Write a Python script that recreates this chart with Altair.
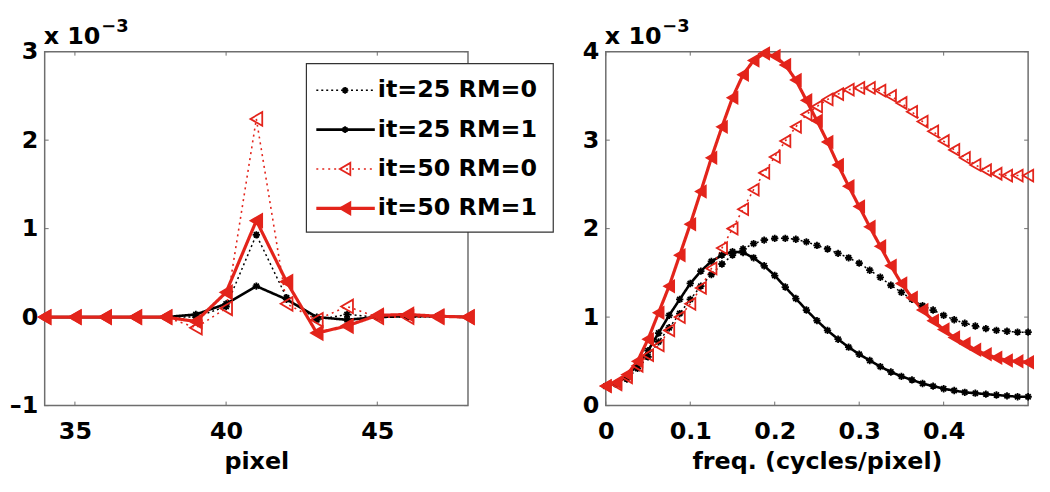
import altair as alt
import pandas as pd

FONT = "DejaVu Sans"
SERIES = ["it=25 RM=0", "it=25 RM=1", "it=50 RM=0", "it=50 RM=1"]
COLORS = ["#000000", "#000000", "#e3241b", "#e3241b"]
DASHES = [[2, 3], [1, 0], [2, 4], [1, 0]]
WIDTHS = [1.5, 2.6, 1.6, 3.2]
BLACK = SERIES[:2]
RED_OPEN = [SERIES[2]]
RED_FILLED = [SERIES[3]]
ASTER = "M-1,0L1,0M0,-1L0,1M-0.7,-0.7L0.7,0.7M-0.7,0.7L0.7,-0.7"

# ---- left panel: spatial profile (values x 1e-3) ----
left_pixel = [34, 35, 36, 37, 38, 39, 40, 41, 42, 43, 44, 45, 46, 47, 48]
left_it25_rm0 = [0, 0, 0, 0, 0, 0.0, 0.12, 0.93, 0.22, -0.03, 0.03, 0.0, 0.0, 0.0, 0.0]
left_it25_rm1 = [0, 0, 0, 0, 0, 0.03, 0.15, 0.35, 0.2, 0.0, -0.03, 0.0, 0.01, 0.01, 0.0]
left_it50_rm0 = [0, 0, 0, 0, 0, -0.12, 0.1, 2.24, 0.15, -0.03, 0.12, 0.0, 0.0, 0.0, 0.0]
left_it50_rm1 = [0, 0, 0, 0, 0, -0.05, 0.28, 1.09, 0.4, -0.18, -0.1, 0.02, 0.03, 0.01, 0.0]
left_xticks = [35, 40, 45]
left_yticks = [-1, 0, 1, 2, 3]

# ---- right panel: frequency response (values x 1e-3) ----
right_freq = [0, 0.0125, 0.025, 0.0375, 0.05, 0.0625, 0.075, 0.0875, 0.1, 0.1125,
              0.125, 0.1375, 0.15, 0.1625, 0.175, 0.1875, 0.2, 0.2125, 0.225, 0.2375,
              0.25, 0.2625, 0.275, 0.2875, 0.3, 0.3125, 0.325, 0.3375, 0.35, 0.3625,
              0.375, 0.3875, 0.4, 0.4125, 0.425, 0.4375, 0.45, 0.4625, 0.475, 0.4875, 0.5]
right_it25_rm0 = [0.22, 0.24, 0.3, 0.42, 0.55, 0.72, 0.88, 1.04, 1.2, 1.35,
                  1.48, 1.6, 1.7, 1.77, 1.83, 1.87, 1.89, 1.89, 1.88, 1.85,
                  1.81, 1.77, 1.72, 1.67, 1.61, 1.53, 1.45, 1.36, 1.28, 1.2,
                  1.13, 1.08, 1.02, 0.97, 0.93, 0.9, 0.87, 0.85, 0.84, 0.83, 0.83]
right_it25_rm1 = [0.22, 0.25, 0.33, 0.46, 0.62, 0.82, 1.02, 1.2, 1.38, 1.52,
                  1.63, 1.7, 1.74, 1.73, 1.67, 1.58, 1.47, 1.34, 1.21, 1.08,
                  0.96, 0.85, 0.75, 0.66, 0.58, 0.51, 0.44, 0.38, 0.33, 0.29,
                  0.25, 0.22, 0.19, 0.17, 0.15, 0.14, 0.13, 0.12, 0.11, 0.1, 0.1]
right_it50_rm0 = [0.22, 0.24, 0.32, 0.45, 0.57, 0.68, 0.85, 1.0, 1.15, 1.33,
                  1.55, 1.78, 2.0, 2.22, 2.44, 2.63, 2.81, 2.99, 3.15, 3.29,
                  3.38, 3.46, 3.52, 3.57, 3.59, 3.59, 3.56, 3.5, 3.42, 3.32,
                  3.21, 3.1, 2.99, 2.89, 2.8, 2.72, 2.66, 2.62, 2.6, 2.6, 2.6]
right_it50_rm1 = [0.22, 0.26, 0.35, 0.5, 0.75, 1.05, 1.35, 1.7, 2.05, 2.42,
                  2.8, 3.15, 3.48, 3.74, 3.9, 3.98, 3.95, 3.85, 3.68, 3.45,
                  3.22, 2.98, 2.72, 2.48, 2.25, 2.02, 1.8, 1.58, 1.38, 1.22,
                  1.08, 0.96, 0.86, 0.77, 0.7, 0.63, 0.58, 0.54, 0.51, 0.5, 0.49]
right_xticks = [0, 0.1, 0.2, 0.3, 0.4]
right_yticks = [0, 1, 2, 3, 4]


def long_df(xs, arrays):
    rows = []
    for name, arr in zip(SERIES, arrays):
        for x, y in zip(xs, arr):
            rows.append({"x": x, "y": y, "series": name})
    return pd.DataFrame(rows)


left_df = long_df(left_pixel, [left_it25_rm0, left_it25_rm1, left_it50_rm0, left_it50_rm1])
right_df = long_df(right_freq, [right_it25_rm0, right_it25_rm1, right_it50_rm0, right_it50_rm1])

color = alt.Color("series:N", scale=alt.Scale(type="ordinal", domain=SERIES, range=COLORS),
                  legend=None)
dash = alt.StrokeDash("series:N", scale=alt.Scale(type="ordinal", domain=SERIES, range=DASHES),
                      legend=None)
swidth = alt.StrokeWidth("series:N",
                         scale=alt.Scale(type="ordinal", domain=SERIES, range=WIDTHS),
                         legend=None)

W1, W2, H = 427, 426, 357
TICK = "#6e6e6e"
RED = "#e3241b"


def only(chart, names):
    return chart.transform_filter(alt.FieldOneOfPredicate(field="series", oneOf=names))


def panel(df, W, xdomain, xticks, xtitle, xlabelexpr, ydomain, yticks, ylabelexpr,
          tri_size, ast_size, legend):
    xs = alt.Scale(domain=xdomain, nice=False, zero=False)
    ys = alt.Scale(domain=ydomain, nice=False, zero=False)
    xaxis = alt.Axis(values=xticks, title=xtitle, labelExpr=xlabelexpr, orient="bottom",
                     labelPadding=14, titlePadding=6, labelFlush=False, labelOverlap=False)
    yaxis = alt.Axis(values=yticks, title=None, labelExpr=ylabelexpr, orient="left",
                     labelPadding=7, labelFlush=False, labelOverlap=False)
    X = alt.X("x:Q", scale=xs, axis=xaxis)
    Y = alt.Y("y:Q", scale=ys, axis=yaxis)
    Yn = alt.Y("y:Q", scale=ys, axis=None)
    base = alt.Chart(df)
    lines = base.mark_line(clip=True).encode(x=X, y=Y, color=color, strokeDash=dash,
                                             strokeWidth=swidth)
    ast = only(base, BLACK).mark_point(shape=ASTER, size=ast_size, strokeWidth=1.8,
                                       filled=False, opacity=1).encode(x=X, y=Yn, color=color)
    tri_open = only(base, RED_OPEN).mark_point(
        shape="triangle-left", size=tri_size, strokeWidth=1.8, filled=False, opacity=1,
        color=RED).encode(x=X, y=Yn)
    tri_fill = only(base, RED_FILLED).mark_point(
        shape="triangle-left", size=tri_size, strokeWidth=1.6, filled=True, opacity=1,
        fill=RED, stroke=RED).encode(x=X, y=Yn)

    xt = alt.Chart(pd.DataFrame({"x": xticks}))
    yt = alt.Chart(pd.DataFrame({"t": yticks}))
    xtick_b = xt.mark_rule(color=TICK, strokeWidth=1).encode(
        x=X, y=alt.value(H), y2=alt.value(H - 4))
    xtick_t = xt.mark_rule(color=TICK, strokeWidth=1).encode(
        x=X, y=alt.value(0), y2=alt.value(4))
    ytick_l = yt.mark_rule(color=TICK, strokeWidth=1).encode(
        y=alt.Y("t:Q", scale=ys, axis=None), x=alt.value(0), x2=alt.value(4))
    ytick_r = yt.mark_rule(color=TICK, strokeWidth=1).encode(
        y=alt.Y("t:Q", scale=ys, axis=None), x=alt.value(W), x2=alt.value(W - 4))

    one = alt.Chart(pd.DataFrame({"a": [0]}))
    exp_base = one.mark_text(text="x 10", align="left", baseline="alphabetic", font=FONT,
                             fontSize=24, fontWeight="bold", color="black").encode(
        x=alt.value(-1), y=alt.value(-8))
    exp_sup = one.mark_text(text="\u22123", align="left", baseline="alphabetic", font=FONT,
                            fontSize=18, fontWeight="bold", color="black").encode(
        x=alt.value(57), y=alt.value(-20))

    layers = [lines, xtick_b, xtick_t, ytick_l, ytick_r, ast, tri_open, tri_fill,
              exp_base, exp_sup]

    if legend:
        leg = alt.Chart(pd.DataFrame({"series": SERIES}))
        ly = alt.Y("series:N", scale=alt.Scale(domain=SERIES, range=[39, 158], type="point",
                                               padding=0), axis=None)
        box = one.mark_rect(fill="white", stroke="#333333", strokeWidth=1.2).encode(
            x=alt.value(264), x2=alt.value(513), y=alt.value(12), y2=alt.value(182))
        lrule = leg.mark_rule().encode(x=alt.value(274), x2=alt.value(333), y=ly,
                                       color=color, strokeDash=dash, strokeWidth=swidth)
        last = only(leg, BLACK).mark_point(shape=ASTER, size=45, strokeWidth=1.8,
                                           filled=False, opacity=1).encode(
            x=alt.value(303), y=ly, color=color)
        ltri_o = only(leg, RED_OPEN).mark_point(
            shape="triangle-left", size=150, strokeWidth=1.8, filled=False, opacity=1,
            color=RED).encode(x=alt.value(303), y=ly)
        ltri_f = only(leg, RED_FILLED).mark_point(
            shape="triangle-left", size=150, strokeWidth=1.8, filled=True, opacity=1,
            fill=RED, stroke=RED).encode(x=alt.value(303), y=ly)
        ltext = leg.mark_text(align="left", baseline="middle", font=FONT, fontSize=24,
                              fontWeight="bold", color="black").encode(
            x=alt.value(336), y=ly, text="series:N")
        layers += [box, lrule, last, ltri_o, ltri_f, ltext]

    return alt.layer(*layers).resolve_scale(y="independent").properties(width=W, height=H)


left = panel(left_df, W1, [34, 48], left_xticks, "pixel", "datum.label",
             [-1, 3], left_yticks,
             "datum.value < 0 ? '\u2013' + abs(datum.value) : datum.label",
             190, 55, True)
right = panel(right_df, W2, [0, 0.5], right_xticks, "freq. (cycles/pixel)",
              "datum.value == 0 ? '0' : format(datum.value, '.1f')",
              [0, 4], right_yticks, "datum.label", 140, 55, False)

chart = alt.hconcat(left, right, spacing=139, bounds="flush").properties(
    padding={"left": 0, "top": 7, "right": 4, "bottom": 2}
).configure_axis(
    labelFont=FONT, labelFontSize=24, labelFontWeight="bold", labelColor="black",
    titleFont=FONT, titleFontSize=24, titleFontWeight="bold", titleColor="black",
    domain=False, ticks=False, tickSize=0, grid=False
).configure_view(stroke="#6e6e6e", strokeWidth=1.5)

chart.save("out.html", embed_options={"renderer": "svg", "actions": False})
